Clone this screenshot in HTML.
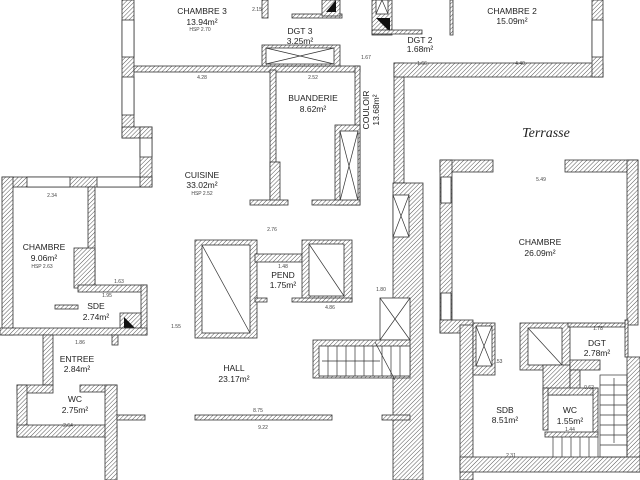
<!DOCTYPE html>
<html><head><meta charset="utf-8"><style>
html,body{margin:0;padding:0;background:#fff;width:640px;height:480px;overflow:hidden}
svg text{font-family:"Liberation Sans",sans-serif;fill:#222}
.r{font-size:8.5px;text-anchor:middle}
.d{font-size:5px;text-anchor:middle;fill:#444}
.w{fill:url(#h);stroke:#333;stroke-width:0.8}
.b{fill:#fff;stroke:#333;stroke-width:0.8}
.l{stroke:#333;stroke-width:0.7;fill:none}
</style></head><body>
<svg width="640" height="480" viewBox="0 0 640 480" xmlns="http://www.w3.org/2000/svg">
<defs><pattern id="h" width="3" height="3" patternUnits="userSpaceOnUse" patternTransform="rotate(45)"><rect width="3" height="3" fill="#fff"/><line x1="0" y1="0" x2="0" y2="3" stroke="#555" stroke-width="1"/></pattern></defs>

<rect class="w" x="122" y="0" width="12" height="138"/>
<rect class="b" x="122" y="20" width="12" height="37"/>
<rect class="b" x="122" y="77" width="12" height="38"/>
<rect class="w" x="122" y="127" width="30" height="11"/>
<rect class="w" x="140" y="127" width="12" height="60"/>
<rect class="b" x="140" y="138" width="12" height="19"/>
<rect class="w" x="134" y="66" width="226" height="6"/>
<rect class="w" x="270" y="70" width="6" height="135"/>
<rect class="w" x="270" y="162" width="10" height="43"/>
<rect class="w" x="250" y="200" width="38" height="5"/>
<rect class="w" x="355" y="66" width="5" height="139"/>
<rect class="w" x="335" y="125" width="25" height="80"/>
<rect class="b" x="340" y="131" width="18" height="70"/>
<path class="l" d="M340 131L358 201M358 131L340 201"/>
<rect class="w" x="312" y="200" width="48" height="5"/>
<rect class="w" x="262" y="45" width="78" height="21"/>
<rect class="b" x="266" y="48" width="68" height="16"/>
<path class="l" d="M266 48L334 64M334 48L266 64"/>
<rect class="w" x="262" y="0" width="6" height="18"/>
<rect class="w" x="292" y="14" width="50" height="4"/>
<rect class="w" x="322" y="0" width="18" height="16"/>
<polygon points="326,12 336,0 336,12" fill="#111"/>
<rect class="w" x="372" y="0" width="20" height="35"/>
<rect class="b" x="376" y="0" width="12" height="14"/>
<path class="l" d="M376 14L382 0L388 14"/>
<polygon points="376,18 390,18 390,32" fill="#111"/>
<rect class="w" x="372" y="30" width="50" height="4"/>
<rect class="w" x="450" y="0" width="3" height="35"/>
<rect class="w" x="394" y="63" width="10" height="120"/>
<rect class="w" x="394" y="63" width="209" height="14"/>
<rect class="w" x="592" y="0" width="11" height="77"/>
<rect class="b" x="592" y="20" width="11" height="37"/>
<rect class="w" x="393" y="183" width="30" height="297"/>
<rect class="b" x="393" y="195" width="16" height="42"/>
<path class="l" d="M393 195L409 237M409 195L393 237"/>
<rect class="b" x="380" y="298" width="30" height="42"/>
<path class="l" d="M380 298L410 340M410 298L380 340"/>
<rect class="w" x="313" y="340" width="97" height="38"/>
<rect class="b" x="319" y="346" width="91" height="30"/>
<g class="l"><path d="M328 346v30M337 346v30M346 346v30M355 346v30M364 346v30M373 346v30M382 346v30M391 346v30M400 346v30"/><path d="M322 361H380M375 342L395 380"/></g>
<rect class="w" x="382" y="415" width="28" height="5"/>
<rect class="w" x="195" y="240" width="62" height="98"/>
<rect class="b" x="202" y="245" width="48" height="88"/>
<path class="l" d="M202 245L250 333"/>
<rect class="w" x="255" y="254" width="47" height="8"/>
<rect class="w" x="302" y="240" width="50" height="62"/>
<rect class="b" x="309" y="244" width="35" height="52"/>
<path class="l" d="M309 244L344 296"/>
<rect class="w" x="255" y="298" width="12" height="4"/>
<rect class="w" x="292" y="298" width="60" height="4"/>
<rect class="w" x="195" y="415" width="137" height="5"/>
<rect class="w" x="2" y="177" width="150" height="10"/>
<rect class="b" x="27" y="177" width="43" height="10"/>
<rect class="b" x="97" y="177" width="43" height="10"/>
<rect class="w" x="2" y="177" width="11" height="158"/>
<rect class="w" x="88" y="187" width="7" height="100"/>
<rect class="w" x="74" y="248" width="21" height="40"/>
<rect class="w" x="78" y="285" width="69" height="7"/>
<rect class="w" x="141" y="285" width="6" height="50"/>
<rect class="w" x="55" y="305" width="23" height="4"/>
<rect class="w" x="120" y="313" width="21" height="20"/>
<polygon points="124,317 138,331 124,331" fill="#111"/>
<rect class="w" x="0" y="328" width="147" height="7"/>
<rect class="w" x="43" y="335" width="10" height="50"/>
<rect class="w" x="112" y="335" width="6" height="10"/>
<rect class="w" x="17" y="385" width="36" height="8"/>
<rect class="w" x="17" y="385" width="10" height="52"/>
<rect class="w" x="80" y="385" width="37" height="7"/>
<rect class="w" x="17" y="425" width="100" height="12"/>
<rect class="w" x="105" y="385" width="12" height="95"/>
<rect class="w" x="117" y="415" width="28" height="5"/>
<!-- right chambre -->
<rect class="w" x="440" y="160" width="53" height="12"/>
<rect class="w" x="565" y="160" width="73" height="12"/>
<rect class="w" x="440" y="160" width="12" height="173"/>
<rect class="b" x="441" y="177" width="10" height="26"/>
<rect class="b" x="441" y="293" width="10" height="27"/>
<rect class="w" x="440" y="320" width="33" height="13"/>
<rect class="w" x="627" y="160" width="11" height="165"/>
<rect class="w" x="625" y="320" width="3" height="37"/>
<rect class="w" x="460" y="325" width="13" height="155"/>
<rect class="w" x="473" y="323" width="22" height="52"/>
<rect class="b" x="476" y="326" width="16" height="40"/>
<path class="l" d="M476 326L492 366M492 326L476 366"/>
<rect class="w" x="520" y="323" width="50" height="47"/>
<rect class="b" x="528" y="328" width="34" height="37"/>
<path class="l" d="M528 328L562 365"/>
<rect class="w" x="543" y="365" width="27" height="30"/>
<rect class="w" x="570" y="360" width="30" height="10"/>
<rect class="w" x="570" y="370" width="10" height="22"/>
<rect class="w" x="543" y="388" width="55" height="7"/>
<rect class="w" x="543" y="388" width="5" height="42"/>
<rect class="w" x="593" y="388" width="5" height="47"/>
<rect class="w" x="545" y="432" width="53" height="5"/>
<rect class="w" x="568" y="323" width="57" height="4"/>
<rect class="w" x="627" y="357" width="13" height="115"/>
<rect class="w" x="460" y="457" width="180" height="15"/>
<g class="l"><rect x="600" y="375" width="27" height="82"/><path d="M600 385h27M600 395h27M600 405h27M600 415h27M600 425h27M600 435h27M600 445h27M553 437v20M562 437v20M571 437v20M580 437v20M589 437v20M598 437v20M614 378v65"/></g>

<text class="r" x="202" y="14">CHAMBRE 3</text>
<text class="r" x="202" y="25">13.94m²</text>
<text class="d" x="200" y="31">HSP 2.70</text>
<text class="r" x="300" y="34">DGT 3</text>
<text class="r" x="300" y="44">3.25m²</text>
<text class="r" x="512" y="14">CHAMBRE 2</text>
<text class="r" x="512" y="24">15.09m²</text>
<text class="r" x="420" y="43">DGT 2</text>
<text class="r" x="420" y="52">1.68m²</text>
<text class="r" x="313" y="101">BUANDERIE</text>
<text class="r" x="313" y="112">8.62m²</text>
<text class="r" x="369" y="110" transform="rotate(-90 369 110)">COULOIR</text>
<text class="r" x="379" y="110" transform="rotate(-90 379 110)">13.68m²</text>
<text class="r" x="202" y="178">CUISINE</text>
<text class="r" x="202" y="188">33.02m²</text>
<text class="d" x="202" y="195">HSP 2.52</text>
<text x="546" y="137" style="font-family:'Liberation Serif',serif;font-style:italic;font-size:14px;text-anchor:middle">Terrasse</text>
<text class="r" x="540" y="245">CHAMBRE</text>
<text class="r" x="540" y="256">26.09m²</text>
<text class="r" x="44" y="250">CHAMBRE</text>
<text class="r" x="44" y="261">9.06m²</text>
<text class="d" x="42" y="268">HSP 2.63</text>
<text class="r" x="96" y="309">SDE</text>
<text class="r" x="96" y="320">2.74m²</text>
<text class="r" x="283" y="278">PEND</text>
<text class="r" x="283" y="288">1.75m²</text>
<text class="r" x="77" y="362">ENTREE</text>
<text class="r" x="77" y="372">2.84m²</text>
<text class="r" x="75" y="402">WC</text>
<text class="r" x="75" y="413">2.75m²</text>
<text class="r" x="234" y="371">HALL</text>
<text class="r" x="234" y="382">23.17m²</text>
<text class="r" x="597" y="346">DGT</text>
<text class="r" x="597" y="356">2.78m²</text>
<text class="r" x="505" y="413">SDB</text>
<text class="r" x="505" y="423">8.51m²</text>
<text class="r" x="570" y="413">WC</text>
<text class="r" x="570" y="424">1.55m²</text>
<text class="d" x="202" y="79">4.28</text>
<text class="d" x="313" y="79">2.52</text>
<text class="d" x="366" y="59">1.67</text>
<text class="d" x="422" y="65">1.66</text>
<text class="d" x="520" y="65">4.40</text>
<text class="d" x="541" y="181">5.49</text>
<text class="d" x="52" y="197">2.34</text>
<text class="d" x="119" y="283">1.63</text>
<text class="d" x="107" y="297">1.95</text>
<text class="d" x="80" y="344">1.86</text>
<text class="d" x="68" y="427">2.64</text>
<text class="d" x="258" y="412">8.75</text>
<text class="d" x="263" y="429">9.22</text>
<text class="d" x="272" y="231">2.76</text>
<text class="d" x="283" y="268">1.48</text>
<text class="d" x="330" y="309">4.86</text>
<text class="d" x="381" y="291">1.80</text>
<text class="d" x="176" y="328">1.55</text>
<text class="d" x="257" y="11">2.15</text>
<text class="d" x="598" y="330">1.78</text>
<text class="d" x="589" y="389">0.62</text>
<text class="d" x="570" y="431">1.44</text>
<text class="d" x="511" y="457">2.31</text>
<text class="d" x="499" y="363">.53</text>
</svg>
</body></html>
